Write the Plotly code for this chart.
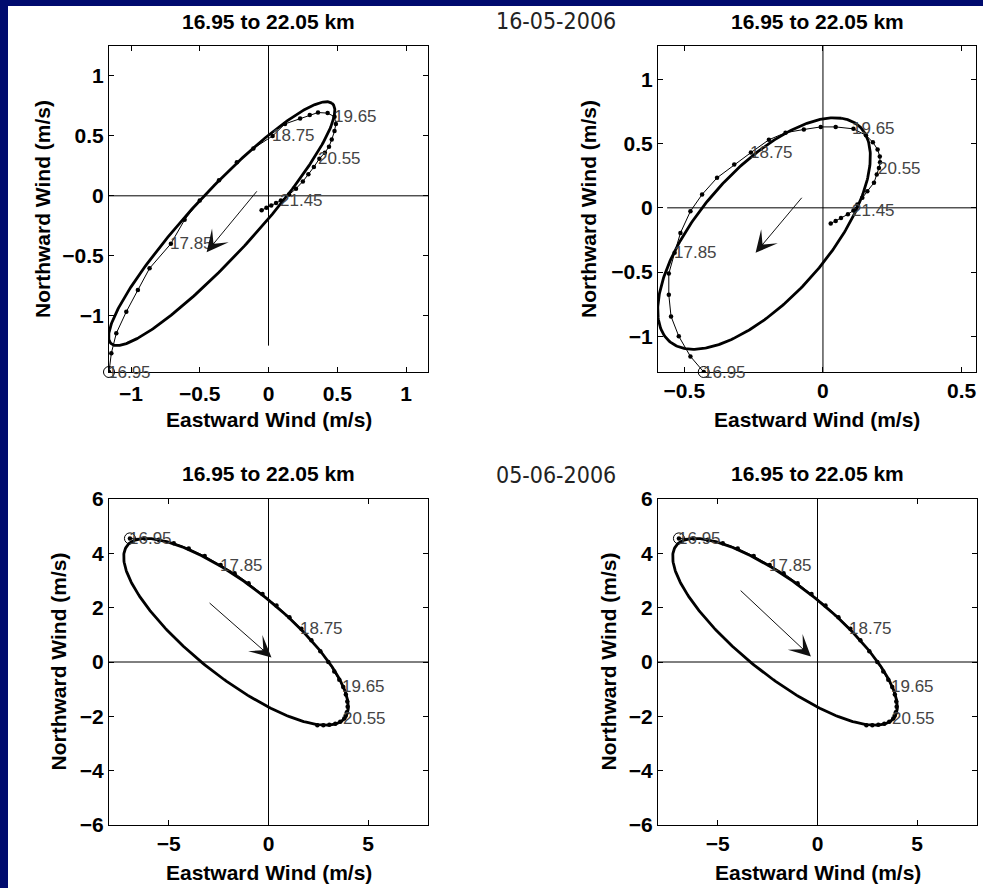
import numpy as np
import plotly.graph_objects as go

# ------------------------------------------------------------------
# Hodographs of the filtered wind profile, 16.95 to 22.05 km (0.15 km step)
# thin line + dots : observed (u, v) per level
# thick line      : fitted ellipse (centre, semi-axes, tilt)
# ------------------------------------------------------------------
LEVEL_LABELS = ["16.95", "17.85", "18.75", "19.65", "20.55", "21.45"]
LABEL_EVERY = 6
TITLE = "16.95 to 22.05 km"
DATES = ["16-05-2006", "05-06-2006"]
X_TITLE = "Eastward Wind (m/s)"
Y_TITLE = "Northward Wind (m/s)"

# ---------------- 16-05-2006, left ----------------
A_OBS_U = [-1.16, -1.143, -1.107, -1.034, -0.95, -0.865, -0.71,
           -0.61, -0.5, -0.36, -0.23, -0.11, 0.03,
           0.12, 0.23, 0.3, 0.36, 0.43, 0.48,
           0.49, 0.48, 0.46, 0.44, 0.41, 0.37,
           0.33, 0.29, 0.25, 0.2, 0.15, 0.09,
           0.055, 0.02, -0.015, -0.05]
A_OBS_V = [-1.47, -1.313, -1.147, -0.967, -0.786, -0.605, -0.40,
           -0.2, -0.04, 0.13, 0.28, 0.395, 0.5,
           0.6, 0.645, 0.675, 0.695, 0.69, 0.66,
           0.6, 0.54, 0.47, 0.41, 0.36, 0.31,
           0.24, 0.18, 0.12, 0.06, 0.01, -0.04,
           -0.06, -0.08, -0.10, -0.12]
A_FIT_CENTER = [-0.34, -0.232]
A_FIT_AXES = [1.285, 0.245]
A_FIT_TILT = 51.5            # degrees from the eastward axis
A_ARROW_TAIL = [-0.076, 0.05]
A_ARROW_HEAD = [-0.45, -0.47]
A_XRANGE = [-1.16, 1.16]
A_YRANGE = [-1.47, 1.25]
A_XTICKS = [-1, -0.5, 0, 0.5, 1]
A_YTICKS = [-1, -0.5, 0, 0.5, 1]
A_ZERO_U = [-1.16, 1.16]     # extent of the v = 0 line
A_ZERO_V = [-1.25, 1.25]     # extent of the u = 0 line

# ---------------- 16-05-2006, right ----------------
B_OBS_U = [-0.43, -0.478, -0.52, -0.548, -0.556, -0.556, -0.535,
           -0.514, -0.478, -0.436, -0.382, -0.32, -0.26,
           -0.195, -0.135, -0.069, -0.008, 0.046, 0.11,
           0.155, 0.18, 0.197, 0.205, 0.206, 0.202,
           0.194, 0.184, 0.16, 0.142, 0.124, 0.11,
           0.09, 0.065, 0.046, 0.028]
B_OBS_V = [-1.278, -1.157, -1.0, -0.845, -0.676, -0.512, -0.35,
           -0.195, -0.026, 0.104, 0.234, 0.337, 0.43,
           0.53, 0.585, 0.61, 0.63, 0.63, 0.615,
           0.565, 0.51, 0.455, 0.40, 0.355, 0.31,
           0.26, 0.195, 0.13, 0.078, 0.026, -0.02,
           -0.05, -0.08, -0.102, -0.122]
B_FIT_CENTER = [-0.2125, -0.20]
B_FIT_AXES = [0.94, 0.275]
B_FIT_TILT = 72.7
B_ARROW_TAIL = [-0.072, 0.09]
B_ARROW_HEAD = [-0.243, -0.35]
B_XRANGE = [-0.595, 0.552]
B_YRANGE = [-1.278, 1.26]
B_XTICKS = [-0.5, 0, 0.5]
B_YTICKS = [-1, -0.5, 0, 0.5, 1]
B_ZERO_U = [-0.562, 0.562]
B_ZERO_V = [-1.278, 1.26]

# ---------------- 05-06-2006 (both panels share the profile and fit) ----
C_OBS_U = [-6.95, -6.2, -5.5, -4.75, -4.0, -3.2, -2.4,
           -1.7, -1.0, -0.3, 0.4, 1.05, 1.65,
           2.15, 2.6, 3.0, 3.3, 3.55, 3.75,
           3.88, 3.95, 3.97, 3.93, 3.87, 3.8,
           3.6, 3.35, 3.05, 2.75, 2.45]
C_OBS_V = [4.55, 4.55, 4.5, 4.37, 4.18, 3.9, 3.57,
           3.27, 2.9, 2.5, 2.08, 1.65, 1.22,
           0.8, 0.4, 0.0, -0.35, -0.65, -0.92,
           -1.2, -1.45, -1.65, -1.85, -1.98, -2.08,
           -2.2, -2.27, -2.31, -2.33, -2.33]
C_FIT_CENTER = [-1.63, 1.11]
C_FIT_AXES = [6.34, 1.83]
C_FIT_TILT = -28.65
C_ARROW_TAIL = [-3.03, 2.22]
C_ARROW_HEAD = [0.15, 0.17]
D_ARROW_TAIL = [-3.93, 2.68]
D_ARROW_HEAD = [-0.33, 0.2]
CD_XRANGE = [-8, 8]
CD_YRANGE = [-6, 6]
CD_XTICKS = [-5, 0, 5]
CD_YTICKS = [-6, -4, -2, 0, 2, 4, 6]

# ------------------------------------------------------------------
W, H = 983, 888
FONT = "Liberation Sans, Arial, Helvetica, sans-serif"
NARROW = "Liberation Sans Narrow, Arial Narrow, DejaVu Sans Condensed, sans-serif"
NAVY = "#000B6E"


def fx(p):
    return p / W


def fy(p):
    return 1 - p / H


def ellipse(center, axes, tilt_deg, n=361):
    """Outline of the fitted hodograph ellipse."""
    t = np.linspace(0, 2 * np.pi, n)
    th = np.deg2rad(tilt_deg)
    a, b = axes
    x = a * np.cos(t)
    y = b * np.sin(t)
    u = center[0] + x * np.cos(th) - y * np.sin(th)
    v = center[1] + x * np.sin(th) + y * np.cos(th)
    return u, v


panels = [
    dict(ax="", box=(109, 428, 46, 372), obs=(A_OBS_U, A_OBS_V),
         fit=(A_FIT_CENTER, A_FIT_AXES, A_FIT_TILT),
         arrow=(A_ARROW_TAIL, A_ARROW_HEAD), xr=A_XRANGE, yr=A_YRANGE,
         xt=A_XTICKS, yt=A_YTICKS, zu=A_ZERO_U, zv=A_ZERO_V, ytx=43, xstand=3),
    dict(ax="2", box=(658, 976, 46, 372), obs=(B_OBS_U, B_OBS_V),
         fit=(B_FIT_CENTER, B_FIT_AXES, B_FIT_TILT),
         arrow=(B_ARROW_TAIL, B_ARROW_HEAD), xr=B_XRANGE, yr=B_YRANGE,
         xt=B_XTICKS, yt=B_YTICKS, zu=B_ZERO_U, zv=B_ZERO_V, ytx=589, xstand=0),
    dict(ax="3", box=(109, 428, 499, 825), obs=(C_OBS_U, C_OBS_V),
         fit=(C_FIT_CENTER, C_FIT_AXES, C_FIT_TILT),
         arrow=(C_ARROW_TAIL, C_ARROW_HEAD), xr=CD_XRANGE, yr=CD_YRANGE,
         xt=CD_XTICKS, yt=CD_YTICKS, zu=CD_XRANGE, zv=CD_YRANGE, ytx=57.5, xstand=0),
    dict(ax="4", box=(658, 977, 499, 825), obs=(C_OBS_U, C_OBS_V),
         fit=(C_FIT_CENTER, C_FIT_AXES, C_FIT_TILT),
         arrow=(D_ARROW_TAIL, D_ARROW_HEAD), xr=CD_XRANGE, yr=CD_YRANGE,
         xt=CD_XTICKS, yt=CD_YTICKS, zu=CD_XRANGE, zv=CD_YRANGE, ytx=607.5, xstand=0),
]

fig = go.Figure()
layout = dict(
    width=W, height=H, margin=dict(l=0, r=0, t=0, b=0, pad=0, autoexpand=False),
    autosize=False,
    paper_bgcolor="white", plot_bgcolor="white", showlegend=False,
    annotations=[], shapes=[],
)

tickfont = dict(family=FONT, size=21, color="black", weight="bold")

for p in panels:
    xa, ya = "x" + p["ax"], "y" + p["ax"]
    x0, x1, y0, y1 = p["box"]
    axcommon = dict(showline=True, linecolor="black", linewidth=1, mirror="ticks",
                    ticks="inside", ticklen=5, tickcolor="black", tickwidth=1,
                    showgrid=False, zeroline=False, tickfont=tickfont,
                    fixedrange=True, tickmode="array", automargin=False)
    layout["xaxis" + p["ax"]] = dict(axcommon, domain=[fx(x0), fx(x1)], range=p["xr"],
                                     tickvals=p["xt"], anchor=ya,
                                     ticklabelstandoff=p["xstand"])
    layout["yaxis" + p["ax"]] = dict(axcommon, domain=[fy(y1), fy(y0)], range=p["yr"],
                                     tickvals=p["yt"], anchor=xa)

    # zero lines through the origin
    fig.add_trace(go.Scatter(x=p["zu"], y=[0, 0], xaxis=xa, yaxis=ya, mode="lines",
                             line=dict(color="black", width=1), hoverinfo="skip"))
    fig.add_trace(go.Scatter(x=[0, 0], y=p["zv"], xaxis=xa, yaxis=ya, mode="lines",
                             line=dict(color="black", width=1), hoverinfo="skip"))

    # fitted ellipse
    eu, ev = ellipse(*p["fit"])
    fig.add_trace(go.Scatter(x=eu, y=ev, xaxis=xa, yaxis=ya, mode="lines",
                             line=dict(color="black", width=2.8)))

    # observed hodograph
    ou, ov = p["obs"]
    fig.add_trace(go.Scatter(x=ou, y=ov, xaxis=xa, yaxis=ya, mode="lines+markers",
                             line=dict(color="black", width=1),
                             marker=dict(color="black", size=4.5)))

    # start level marker
    fig.add_trace(go.Scatter(x=ou[:1], y=ov[:1], xaxis=xa, yaxis=ya, mode="markers",
                             cliponaxis=False,
                             marker=dict(symbol="circle-open", size=11, color="black",
                                         line=dict(width=1, color="black"))))

    # level labels every 0.9 km
    for k, lab in enumerate(LEVEL_LABELS):
        i = k * LABEL_EVERY
        if i >= len(ou):
            break
        layout["annotations"].append(dict(
            x=ou[i], y=ov[i], xref=xa, yref=ya, text=lab, showarrow=False,
            xanchor="left", yanchor="middle", xshift=-2, borderpad=0,
            font=dict(family=FONT, size=17, color="#444444")))

    # direction arrow
    tail, head = p["arrow"]
    layout["annotations"].append(dict(
        x=head[0], y=head[1], ax=tail[0], ay=tail[1], xref=xa, yref=ya,
        axref=xa, ayref=ya, text="", showarrow=True, arrowhead=3, arrowsize=3.6,
        arrowwidth=1, arrowcolor="#111111", standoff=0))

    # titles and axis labels
    cx = (x0 + x1) / 2
    cy = (y0 + y1) / 2
    title_y = 21.5 if y0 < 200 else 473.5
    xlab_y = 419 if y0 < 200 else 872
    layout["annotations"].append(dict(
        x=fx(cx), y=fy(title_y), xref="paper", yref="paper", text=TITLE,
        showarrow=False, xanchor="center", yanchor="middle",
        font=dict(family=FONT, size=21, color="black", weight="bold")))
    layout["annotations"].append(dict(
        x=fx(cx), y=fy(xlab_y), xref="paper", yref="paper", text=X_TITLE,
        showarrow=False, xanchor="center", yanchor="middle",
        font=dict(family=FONT, size=21, color="black", weight="bold")))
    layout["annotations"].append(dict(
        x=fx(p["ytx"]), y=fy(cy), xref="paper", yref="paper", text=Y_TITLE,
        showarrow=False, xanchor="center", yanchor="middle", textangle=-90,
        font=dict(family=FONT, size=21, color="black", weight="bold")))

# dates between the columns
for txt, yc in zip(DATES, [21.5, 475]):
    layout["annotations"].append(dict(
        x=fx(494), y=fy(yc), xref="paper", yref="paper", text=txt, showarrow=False,
        xanchor="left", yanchor="middle",
        font=dict(family=NARROW, size=23, color="#222222")))

# navy frame on the left and top edges
layout["shapes"] += [
    dict(type="rect", xref="paper", yref="paper", x0=0, x1=fx(8), y0=0, y1=1,
         fillcolor=NAVY, line=dict(width=0), layer="above"),
    dict(type="rect", xref="paper", yref="paper", x0=0, x1=1, y0=fy(6), y1=1,
         fillcolor=NAVY, line=dict(width=0), layer="above"),
]

fig.update_layout(**layout)
fig.write_html("out.html")
